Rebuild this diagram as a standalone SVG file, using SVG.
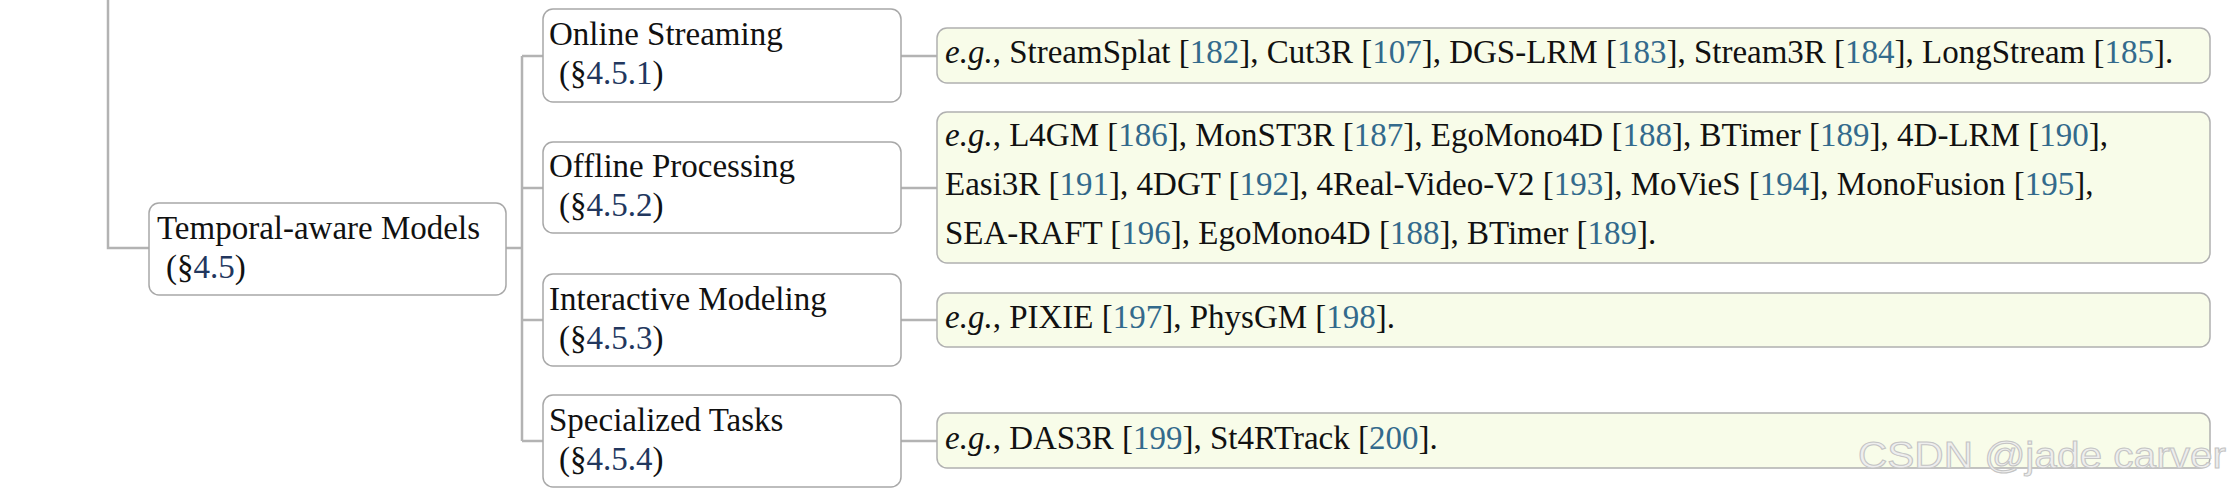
<svg xmlns="http://www.w3.org/2000/svg" width="2232" height="492" viewBox="0 0 2232 492">
<style>
.conn{stroke:#b3b3b3;stroke-width:2.5;fill:none}
.cat{fill:#ffffff;stroke:#a8a8a8;stroke-width:1.5}
.leaf{fill:#f8fce9;stroke:#b0b0b0;stroke-width:1.5}
text{font-family:"Liberation Serif","DejaVu Serif",serif;font-size:33px;fill:#111111}
.sec{fill:#22375e}
.cite{fill:#336a8c}
.eg{font-style:italic}
.wm{font-family:"Liberation Sans","DejaVu Sans",sans-serif;font-size:37px;fill:#eeeeee;stroke:#c4c4c4;stroke-width:1}
</style>
<rect width="2232" height="492" fill="#ffffff"/>
<g id="connectors">
<path class="conn" d="M108 0 V248 H149"/>
<path class="conn" d="M506 248 H522"/>
<path class="conn" d="M522 56 V441"/>
<path class="conn" d="M522 56 H543 M522 188 H543 M522 320 H543 M522 441 H543"/>
<path class="conn" d="M901 56 H937 M901 188 H937 M901 320 H937 M901 441 H937"/>
</g>
<g id="temporal">
<rect class="cat" x="149" y="203" width="357" height="92" rx="10"/>
<text x="157" y="239">Temporal-aware Models</text>
<text x="166" y="278">(§<tspan class="sec">4.5</tspan>)</text>
</g>
<g id="online">
<rect class="cat" x="543" y="9" width="358" height="93" rx="10"/>
<text x="549" y="45">Online Streaming</text>
<text x="559" y="84">(§<tspan class="sec">4.5.1</tspan>)</text>
</g>
<g id="offline">
<rect class="cat" x="543" y="142" width="358" height="91" rx="10"/>
<text x="549" y="177">Offline Processing</text>
<text x="559" y="216">(§<tspan class="sec">4.5.2</tspan>)</text>
</g>
<g id="interactive">
<rect class="cat" x="543" y="274" width="358" height="92" rx="10"/>
<text x="549" y="310">Interactive Modeling</text>
<text x="559" y="349">(§<tspan class="sec">4.5.3</tspan>)</text>
</g>
<g id="specialized">
<rect class="cat" x="543" y="395" width="358" height="92" rx="10"/>
<text x="549" y="431">Specialized Tasks</text>
<text x="559" y="470">(§<tspan class="sec">4.5.4</tspan>)</text>
</g>
<g id="leaf-online">
<rect class="leaf" x="937" y="28" width="1273" height="55" rx="10"/>
<text x="945" y="63"><tspan class="eg">e.g.</tspan>, StreamSplat [<tspan class="cite">182</tspan>], Cut3R [<tspan class="cite">107</tspan>], DGS-LRM [<tspan class="cite">183</tspan>], Stream3R [<tspan class="cite">184</tspan>], LongStream [<tspan class="cite">185</tspan>].</text>
</g>
<g id="leaf-offline">
<rect class="leaf" x="937" y="112" width="1273" height="151" rx="10"/>
<text x="945" y="146"><tspan class="eg">e.g.</tspan>, L4GM [<tspan class="cite">186</tspan>], MonST3R [<tspan class="cite">187</tspan>], EgoMono4D [<tspan class="cite">188</tspan>], BTimer [<tspan class="cite">189</tspan>], 4D-LRM [<tspan class="cite">190</tspan>],</text>
<text x="945" y="195">Easi3R [<tspan class="cite">191</tspan>], 4DGT [<tspan class="cite">192</tspan>], 4Real-Video-V2 [<tspan class="cite">193</tspan>], MoVieS [<tspan class="cite">194</tspan>], MonoFusion [<tspan class="cite">195</tspan>],</text>
<text x="945" y="244">SEA-RAFT [<tspan class="cite">196</tspan>], EgoMono4D [<tspan class="cite">188</tspan>], BTimer [<tspan class="cite">189</tspan>].</text>
</g>
<g id="leaf-interactive">
<rect class="leaf" x="937" y="293" width="1273" height="54" rx="10"/>
<text x="945" y="328"><tspan class="eg">e.g.</tspan>, PIXIE [<tspan class="cite">197</tspan>], PhysGM [<tspan class="cite">198</tspan>].</text>
</g>
<g id="leaf-specialized">
<rect class="leaf" x="937" y="413" width="1273" height="55" rx="10"/>
<text x="945" y="449"><tspan class="eg">e.g.</tspan>, DAS3R [<tspan class="cite">199</tspan>], St4RTrack [<tspan class="cite">200</tspan>].</text>
</g>
<text class="wm" x="1858" y="468" textLength="368" lengthAdjust="spacingAndGlyphs">CSDN @jade carver</text>
</svg>
